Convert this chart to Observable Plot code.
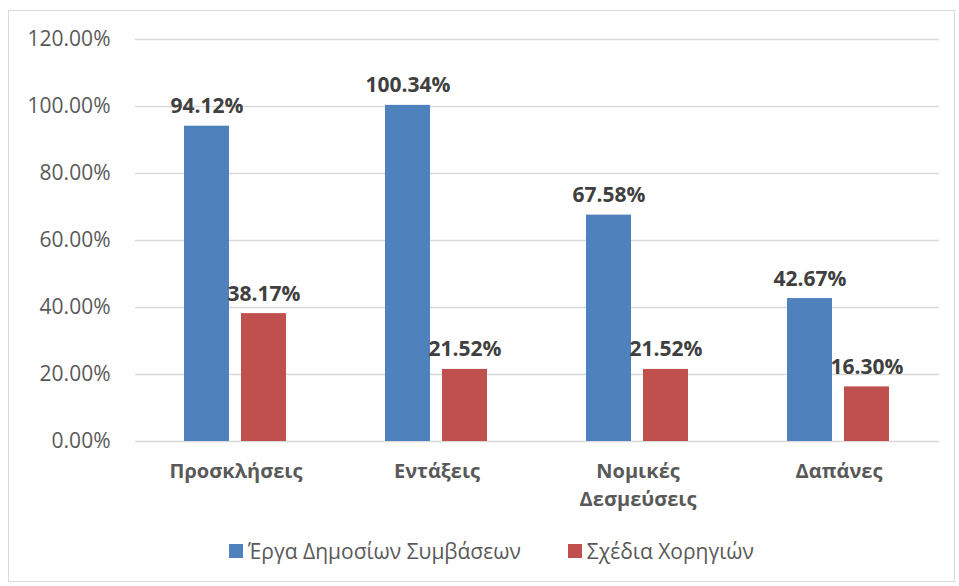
<!DOCTYPE html>
<html><head><meta charset="utf-8">
<script src="https://cdn.jsdelivr.net/npm/d3@7"></script>
<script src="https://cdn.jsdelivr.net/npm/@observablehq/plot@0.6"></script>
<style>
body{margin:0;background:#fff;font-family:"Open Sans","Noto Sans",sans-serif;}
#frame{position:absolute;left:8px;top:10px;width:947px;height:572px;border:1px solid #d9d9d9;box-sizing:border-box;}
#chart{position:absolute;left:0;top:0;}
#legend{position:absolute;left:220px;top:526px;display:flex;align-items:center;font-size:21px;color:#595959;white-space:nowrap;}
.item{display:flex;align-items:center;margin-right:47px;}
.sw{width:14px;height:14px;margin-right:5px;}
</style>
</head><body>
<div id="frame"><div id="chart"></div><div id="legend"></div></div>
<script>
const categories = ["Προσκλήσεις", "Εντάξεις", "Νομικές\nΔεσμεύσεις", "Δαπάνες"];
const seriesNames = ["Έργα Δημοσίων Συμβάσεων", "Σχέδια Χορηγιών"];
const seriesColors = ["#4F81BD", "#C0504D"];
const publicWorks = [0.9412, 1.0034, 0.6758, 0.4267];
const grants = [0.3817, 0.2152, 0.2152, 0.1630];
const yTicks = [0, 0.2, 0.4, 0.6, 0.8, 1.0, 1.2];

const data = [];
categories.forEach((c, i) => {
  data.push({cat: c, series: seriesNames[0], value: publicWorks[i]});
  data.push({cat: c, series: seriesNames[1], value: grants[i]});
});
const pct = d3.format(".2%");

const plot = Plot.plot({
  width: 945,
  height: 520,
  marginLeft: 124,
  marginRight: 14,
  marginTop: 28,
  marginBottom: 90,
  style: {fontFamily: "'Open Sans','Noto Sans',sans-serif", color: "#595959", background: "transparent"},
  fx: {domain: categories, paddingInner: 0, paddingOuter: 0, label: null},
  x: {domain: seriesNames, paddingInner: 0.207, paddingOuter: 0.845, axis: null},
  y: {domain: [0, 1.2], axis: null},
  color: {domain: seriesNames, range: seriesColors},
  marks: [
    Plot.gridY(yTicks, {stroke: "#d9d9d9", strokeOpacity: 1, strokeWidth: 1.4}),
    Plot.barY(data, {fx: "cat", x: "series", y: "value", fill: "series"}),
    Plot.text(data, {fx: "cat", x: "series", y: "value", text: d => pct(d.value), lineAnchor: "bottom", dy: -13, fontWeight: "bold", fontSize: 21, fill: "#404040"}),
    Plot.axisY({ticks: yTicks, tickFormat: pct, tickSize: 0, tickPadding: 25, fontSize: 21, label: null}),
    Plot.axisFx({anchor: "bottom", tickSize: 0, tickPadding: 17, fontSize: 20, fontWeight: "bold", label: null, lineHeight: 1.4})
  ]
});
document.getElementById("chart").appendChild(plot);

const legend = document.getElementById("legend");
seriesNames.forEach((s, i) => {
  const it = document.createElement("div");
  it.className = "item";
  const sw = document.createElement("span");
  sw.className = "sw";
  sw.style.background = seriesColors[i];
  const t = document.createElement("span");
  t.textContent = s;
  it.appendChild(sw); it.appendChild(t);
  legend.appendChild(it);
});
</script>
</body></html>
